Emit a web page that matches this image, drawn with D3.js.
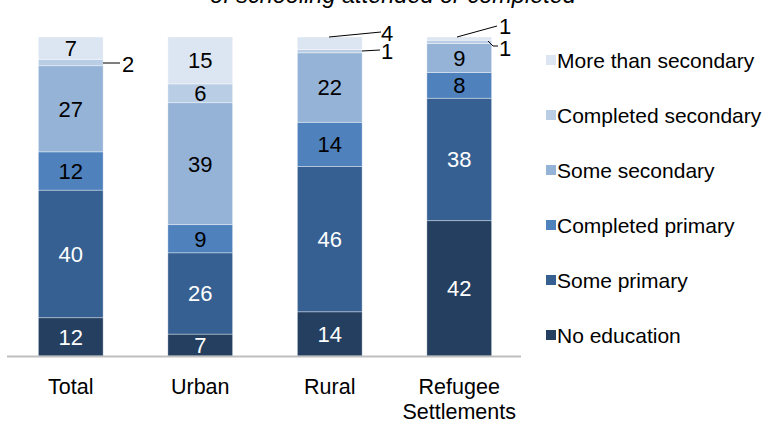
<!DOCTYPE html>
<html>
<head>
<meta charset="utf-8">
<script src="https://cdn.jsdelivr.net/npm/d3@7"></script>
<style>
  html, body { margin: 0; padding: 0; background: #fff; }
  svg { display: block; font-family: "Liberation Sans", Arial, sans-serif; }
</style>
</head>
<body>
<svg id="chart" width="765" height="423"></svg>
<script>
// ---- data ----
const categories = ["Total", "Urban", "Rural", "Refugee Settlements"];
const seriesNames = ["No education", "Some primary", "Completed primary", "Some secondary", "Completed secondary", "More than secondary"];
const noEducation        = [12, 7, 14, 42];
const somePrimary        = [40, 26, 46, 38];
const completedPrimary   = [12, 9, 14, 8];
const someSecondary      = [27, 39, 22, 9];
const completedSecondary = [2, 6, 1, 1];
const moreThanSecondary  = [7, 15, 4, 1];
const titleText = "of schooling attended or completed";

const seriesValues = [noEducation, somePrimary, completedPrimary, someSecondary, completedSecondary, moreThanSecondary];
const colors = ["#243f60", "#376092", "#4f81bd", "#95b3d7", "#b9cde5", "#dce6f2"];
const labelColors = ["#fff", "#fff", "#000", "#000", "#000", "#000"];

const rows = categories.map((c, i) => {
  const r = { cat: c };
  seriesNames.forEach((s, j) => r[s] = seriesValues[j][i]);
  return r;
});

const svg = d3.select("#chart");
const baseY = 356, topY = 37;

const x = d3.scaleBand().domain(categories).range([6, 524]).paddingInner(0.5).paddingOuter(0.25);
const y = d3.scaleLinear().domain([0, 1]).range([baseY, topY]);
const color = d3.scaleOrdinal().domain(seriesNames).range(colors);

const stack = d3.stack().keys(seriesNames).offset(d3.stackOffsetExpand);
const stacked = stack(rows);

// title (partially cropped at top)
svg.append("text")
  .attr("x", 393).attr("y", 3)
  .attr("text-anchor", "middle")
  .attr("font-size", 23.5).attr("font-style", "italic")
  .attr("fill", "#000")
  .text(titleText);

// bars
const layers = svg.append("g").selectAll("g").data(stacked).join("g")
  .attr("fill", d => color(d.key));

layers.selectAll("rect").data(d => d.map(p => ({ p, key: d.key }))).join("rect")
  .attr("x", d => x(d.p.data.cat))
  .attr("width", x.bandwidth())
  .attr("y", d => y(d.p[1]))
  .attr("height", d => y(d.p[0]) - y(d.p[1]))
  .attr("stroke", "#ffffff").attr("stroke-opacity", 0.45).attr("stroke-width", 0.8);

// outside labels with leader lines for thin segments
const outside = [
  { cat: "Total", s: 4, lx: 122, ly: 64, pts: [[103, 63], [120, 63]] },
  { cat: "Rural", s: 5, lx: 381, ly: 33, pts: [[329, 37], [381, 32]] },
  { cat: "Rural", s: 4, lx: 381, ly: 51, pts: [[362, 51], [380, 50]] },
  { cat: "Refugee Settlements", s: 5, lx: 499, ly: 26, pts: [[457, 37], [497, 26]] },
  { cat: "Refugee Settlements", s: 4, lx: 499, ly: 48, pts: [[488, 41], [493, 46], [498, 46]] }
];
const isOutside = (cat, s) => outside.some(o => o.cat === cat && o.s === s);

// inside labels
const labelG = svg.append("g").attr("font-size", 22).attr("text-anchor", "middle");
stacked.forEach((layer, si) => {
  layer.forEach(p => {
    if (isOutside(p.data.cat, si)) return;
    const v = p.data[layer.key];
    labelG.append("text")
      .attr("x", x(p.data.cat) + x.bandwidth() / 2)
      .attr("y", (y(p[0]) + y(p[1])) / 2)
      .attr("dy", "0.36em")
      .attr("fill", labelColors[si])
      .text(v);
  });
});

// axis baseline
svg.append("line")
  .attr("x1", 7).attr("x2", 521)
  .attr("y1", baseY + 0.5).attr("y2", baseY + 0.5)
  .attr("stroke", "#bfbfbf").attr("stroke-width", 2);

const lineGen = d3.line();
outside.forEach(o => {
  const layer = stacked[o.s];
  const p = layer.find(q => q.data.cat === o.cat);
  svg.append("path").attr("d", lineGen(o.pts))
    .attr("fill", "none").attr("stroke", "#000").attr("stroke-width", 1);
  svg.append("text")
    .attr("x", o.lx).attr("y", o.ly).attr("dy", "0.36em")
    .attr("font-size", 22).attr("fill", "#000")
    .text(p.data[layer.key]);
});

// category labels
const catG = svg.append("g").attr("font-size", 21.5).attr("text-anchor", "middle").attr("fill", "#000");
categories.forEach(c => {
  const words = c === "Refugee Settlements" ? ["Refugee", "Settlements"] : [c];
  words.forEach((w, i) => {
    catG.append("text")
      .attr("x", x(c) + x.bandwidth() / 2)
      .attr("y", 386 + i * 25)
      .attr("dy", "0.36em")
      .text(w);
  });
});

// legend (reverse order)
const legendOrder = seriesNames.slice().reverse();
const leg = svg.append("g");
legendOrder.forEach((s, i) => {
  const cy = 60 + i * 55;
  leg.append("rect").attr("x", 546).attr("y", cy - 5).attr("width", 10).attr("height", 10).attr("fill", color(s));
  leg.append("text").attr("x", 557).attr("y", cy).attr("dy", "0.36em")
    .attr("font-size", 21).attr("fill", "#000").text(s);
});
</script>
</body>
</html>
